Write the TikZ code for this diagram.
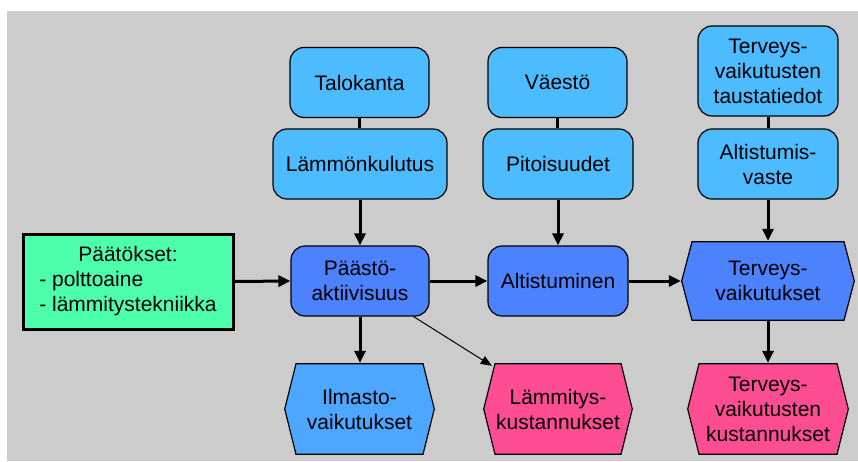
\documentclass[tikz,border=0pt]{standalone}
\usepackage{fontspec}
\setmainfont{Liberation Sans}
\usetikzlibrary{arrows.meta,calc}
\definecolor{bggray}{RGB}{204,204,204}
\definecolor{lblue}{RGB}{77,187,255}
\definecolor{iblue}{RGB}{77,166,255}
\definecolor{dblue}{RGB}{77,130,255}
\definecolor{pinkc}{RGB}{255,77,148}
\definecolor{greenc}{RGB}{77,255,170}
\begin{document}
\begin{tikzpicture}[x=1pt,y=-1pt,
  every node/.style={font=\fontsize{21}{25}\selectfont, align=center, inner sep=0pt},
  rbox/.style={draw, line width=1.2pt, rounded corners=14pt, fill=lblue, minimum height=70pt},
  dbox/.style={rbox, fill=dblue},
  gbox/.style={draw, line width=3pt, fill=greenc},
  hexa/.style n args={2}{path picture={
    \filldraw[fill=#1, line width=1.2pt, line join=miter]
      ([xshift=0.7pt]path picture bounding box.west)
      -- ([xshift=#2, yshift=-0.7pt]path picture bounding box.north west)
      -- ([xshift=-#2, yshift=-0.7pt]path picture bounding box.north east)
      -- ([xshift=-0.7pt]path picture bounding box.east)
      -- ([xshift=-#2, yshift=0.7pt]path picture bounding box.south east)
      -- ([xshift=#2, yshift=0.7pt]path picture bounding box.south west)
      -- cycle;}},
  link/.style={line width=3pt},
  arr/.style={line width=3pt, -{Triangle[length=12pt,width=11pt]}},
  thinarr/.style={line width=1pt, -{Triangle[length=11pt,width=9pt]}}
]
\useasboundingbox (0,0) rectangle (858,461);
\fill[white] (0,0) rectangle (858,461);
\fill[bggray] (7,11) rectangle (858,461);

\node[rbox, minimum width=139pt] (talo) at (359.5,82.5) {Talokanta};
\node[rbox, minimum width=174pt] (lamk) at (360,164) {Lämmönkulutus};
\node[rbox, minimum width=139pt] (vaes) at (557.5,82.5) {Väestö};
\node[rbox, minimum width=150pt] (pit) at (558,164) {Pitoisuudet};
\node[rbox, minimum width=140pt, minimum height=90pt] (taus) at (768,71) {Terveys-\\vaikutusten\\taustatiedot};
\node[rbox, minimum width=140pt] (avaste) at (768,164) {Altistumis-\\vaste};

\node[gbox, minimum width=210pt, minimum height=95pt] (paat) at (128,281.5)
  {\begin{tabular}{@{}l@{}}\multicolumn{1}{@{}c@{}}{Päätökset:}\\- polttoaine\\- lämmitystekniikka\end{tabular}};
\node[dbox, minimum width=138pt] (paas) at (360,281) {Päästö-\\aktiivisuus};
\node[dbox, minimum width=140pt] (alt) at (558,281) {Altistuminen};
\node[hexa={dblue}{11pt}, minimum width=174pt, minimum height=80pt] (tv) at (768,281) {Terveys-\\vaikutukset};

\node[hexa={iblue}{12pt}, minimum width=151pt, minimum height=92pt] (ilm) at (359.5,409) {Ilmasto-\\vaikutukset};
\node[hexa={pinkc}{12pt}, minimum width=150pt, minimum height=92pt] (lk) at (558,409) {Lämmitys-\\kustannukset};
\node[hexa={pinkc}{12pt}, minimum width=162pt, minimum height=92pt] (tvk) at (768,409) {Terveys-\\vaikutusten\\kustannukset};

\draw[link] (talo.south) -- (talo.south |- lamk.north);
\draw[link] (vaes.south) -- (vaes.south |- pit.north);
\draw[link] (taus.south) -- (avaste.north);
\draw[arr] (lamk.south) -- (paas.north);
\draw[arr] (pit.south) -- (alt.north);
\draw[arr] (avaste.south) -- (tv.north);
\draw[arr] (paat.east) -- (paas.west);
\draw[arr] (paas.east) -- (alt.west);
\draw[arr] (alt.east) -- (tv.west);
\draw[arr] (paas.south) -- (paas.south |- ilm.north);
\draw[arr] (tv.south) -- (tvk.north);
\draw[thinarr] ($(paas.south east)+(-16pt,0pt)$) -- ($(lk.north west)+(9pt,-3pt)$);
\end{tikzpicture}
\end{document}
